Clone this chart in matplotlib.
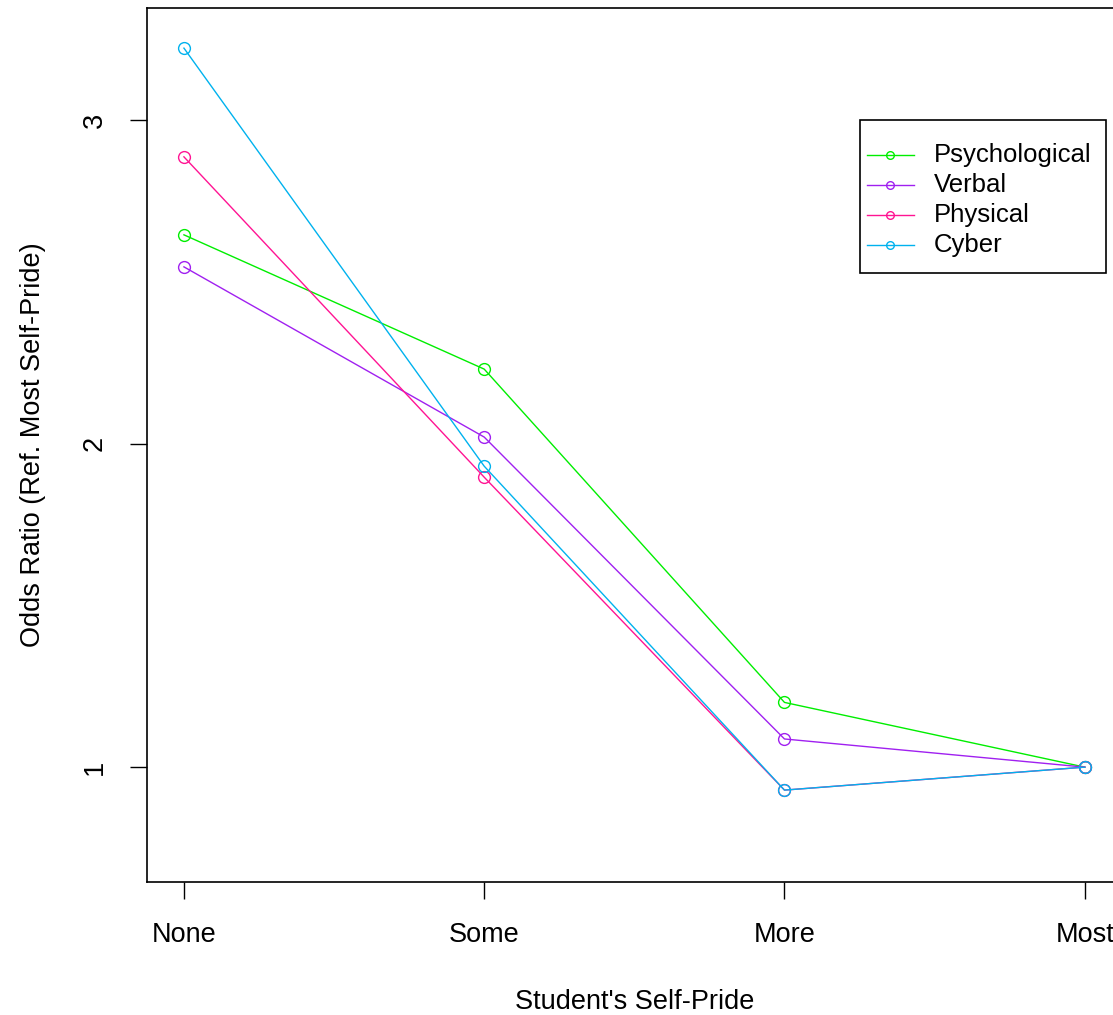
import matplotlib
matplotlib.use('Agg')
import matplotlib.pyplot as plt
from matplotlib.lines import Line2D
from matplotlib.patches import Rectangle

plt.rcParams['font.family'] = ['Liberation Sans', 'DejaVu Sans']

# data
levels = ['None', 'Some', 'More', 'Most']
psychological = [2.645, 2.230, 1.200, 1.0]
verbal = [2.546, 2.020, 1.087, 1.0]
physical = [2.886, 1.896, 0.929, 1.0]
cyber = [3.222, 1.930, 0.929, 1.0]

series = ['Psychological', 'Verbal', 'Physical', 'Cyber']
colors = ['#00EE00', '#A020F0', '#FF1493', '#00B2EE']

W, H = 1113, 1015
fig = plt.figure(figsize=(W / 100, H / 100), dpi=100)
ax = fig.add_axes([147 / W, 133 / H, 975 / W, 874 / H])

x = range(1, len(levels) + 1)
for name, vals, col in zip(series, [psychological, verbal, physical, cyber], colors):
    ax.plot(x, vals, color=col, lw=1.0, marker='o', ms=8.5, mfc='none',
            mec=col, mew=1.0, label=name)

ax.set_xlim(0.877, 4.124)
ax.set_ylim(0.645, 3.346)
ax.set_xticks(list(x))
ax.set_xticklabels(levels)
ax.set_yticks([1, 2, 3])
ax.set_yticklabels(['1', '2', '3'], rotation=90, va='center')
ax.tick_params(axis='both', length=12, width=1, labelsize=19.5, pad=17)
ax.tick_params(axis='y', pad=16)
for s in ax.spines.values():
    s.set_linewidth(1.2)

ax.set_xlabel("Student's Self-Pride", fontsize=19.5, labelpad=29)
ax.set_ylabel('Odds Ratio (Ref. Most Self-Pride)', fontsize=19.5, labelpad=26)

# legend box drawn in pixel positions (R style)
def fx(px):
    return px / W

def fy(py):
    return 1 - py / H

fig.add_artist(Rectangle((fx(860), fy(273)), fx(1106) - fx(860), fy(120) - fy(273),
                         transform=fig.transFigure, facecolor='white',
                         edgecolor='black', lw=1.2, zorder=5))
for i, (name, col) in enumerate(zip(series, colors)):
    yy = fy(155 + 30 * i)
    fig.add_artist(Line2D([fx(867), fx(914)], [yy, yy], transform=fig.transFigure,
                          color=col, lw=1.0, zorder=6))
    fig.add_artist(Line2D([fx(890)], [yy], transform=fig.transFigure, color=col,
                          marker='o', ms=5.5, mfc='none', mec=col, mew=1.0, zorder=6))
    fig.text(fx(934), yy, name, fontsize=18.5, va='center', ha='left', zorder=6)

fig.savefig('out.png', dpi=100)
